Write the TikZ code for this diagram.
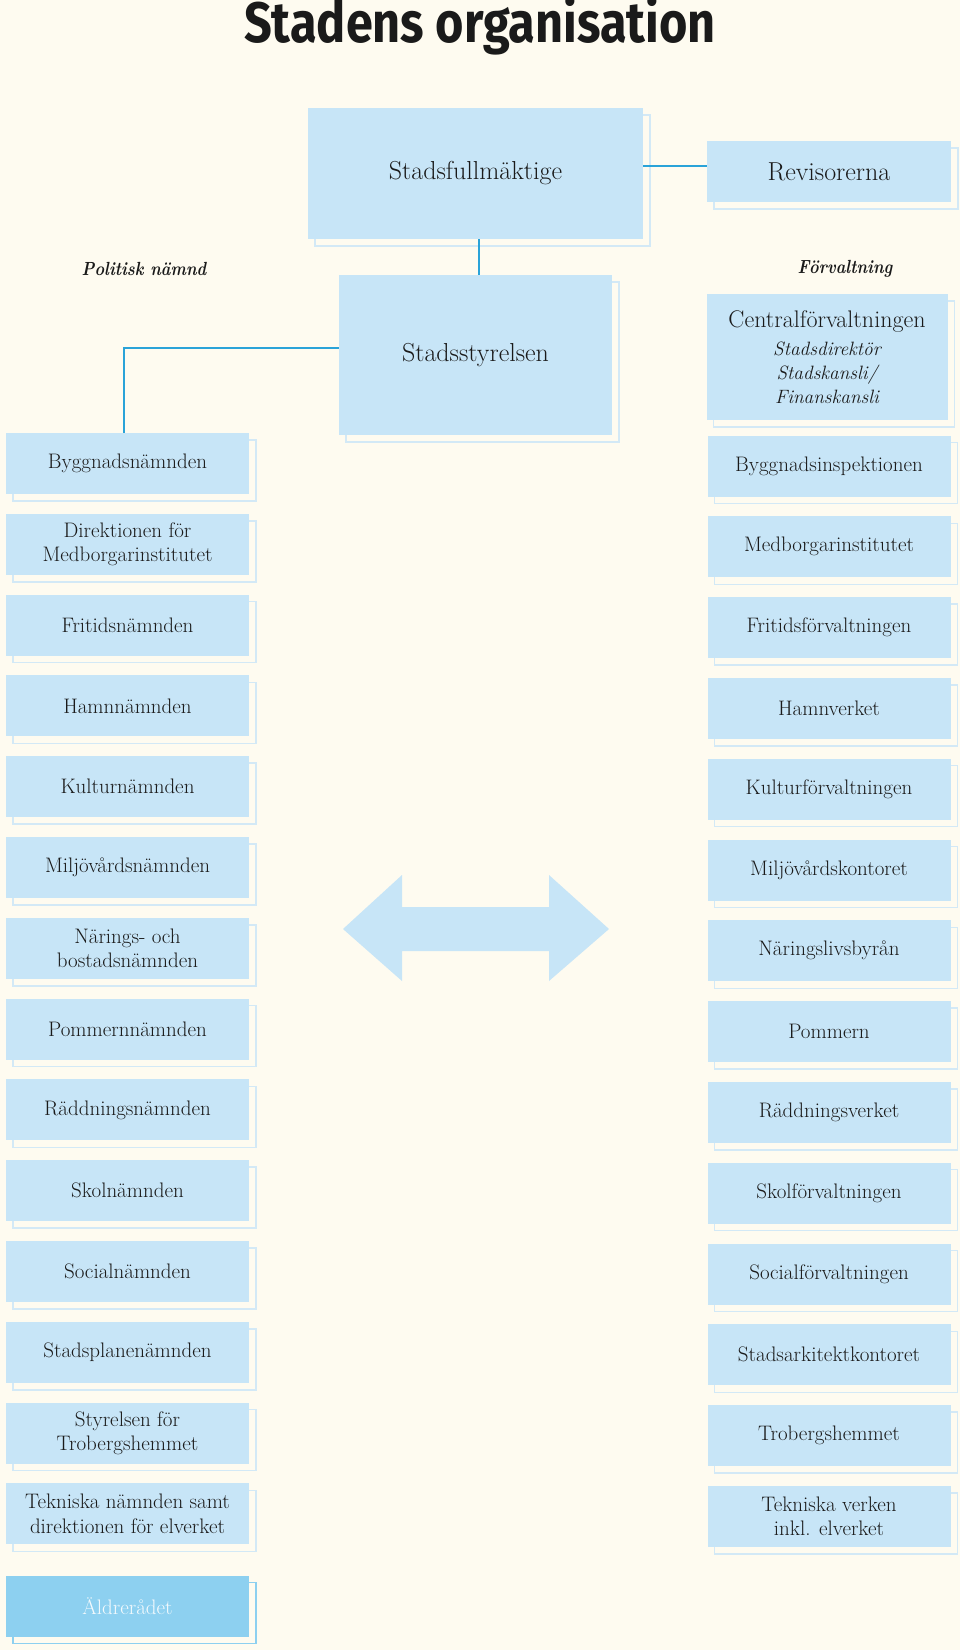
\documentclass[tikz,border=0pt]{standalone}
\usepackage{fontspec}
\usetikzlibrary{shadows}
\newfontfamily\titlefont{Fira Sans}

\definecolor{bgcream}{HTML}{FEFBF0}
\definecolor{boxblue}{HTML}{C7E5F7}
\definecolor{shadeline}{HTML}{D3E9F6}
\definecolor{linkblue}{HTML}{2AA3D8}
\definecolor{darkblue}{HTML}{8DD0F0}
\definecolor{inktext}{HTML}{1A1A1A}

\newcommand{\subline}[1]{{\fontsize{19.3}{24}\selectfont\itshape #1}}

\begin{document}
\begin{tikzpicture}[x=1pt, y=-1pt]
		\tikzset{
			unit/.style={
				rectangle,
				fill=boxblue,
				text=inktext,
				align=center,
				inner sep=0pt,
				minimum width=243pt,
				minimum height=61pt,
				font=\fontsize{21}{24.5}\selectfont,
				general shadow={
					shadow xshift=7pt,
					shadow yshift=-7pt,
					fill=bgcream,
					draw=shadeline,
					line width=1.5pt
				}
			},
			bigunit/.style={
				unit,
				font=\fontsize{26}{30}\selectfont
			},
			council/.style={
				unit,
				fill=darkblue,
				text=white!90!darkblue,
				general shadow={
					shadow xshift=7pt,
					shadow yshift=-7pt,
					fill=bgcream,
					draw=darkblue,
					line width=1.5pt
				}
			},
			head/.style={
				font=\fontsize{19}{22}\selectfont\bfseries\itshape,
				xscale=0.86,
				text=inktext
			},
			link/.style={
				draw=linkblue,
				line width=2.5pt
			}
		}

		% page
		\fill[bgcream] (0, 0) rectangle (960, 1650);
		\useasboundingbox (0, 0) rectangle (960, 1650);

		\node[text=inktext, font=\titlefont\bfseries\fontsize{57}{60}\selectfont,
			xscale=0.853, anchor=base] (title) at (480, 42)
			{Stadens organisation};

		% top level
		\node[bigunit, minimum width=335pt, minimum height=131pt] (fullm) at (475.5, 173.5)
			{Stadsfullmäktige};
		\node[bigunit, minimum width=244pt] (revis) at (829, 171.5)
			{Revisorerna};
		\node[bigunit, minimum width=273pt, minimum height=160pt] (styr) at (475.5, 355)
			{Stadsstyrelsen};

		\node[head] (polhead) at (144, 269) {Politisk nämnd};
		\node[head] (adhead) at (845, 269) {Förvaltning};

		\node[unit, minimum width=241pt, minimum height=126pt, font=\fontsize{24}{24}\selectfont] (central) at (827, 357)
			{Centralförvaltningen\\[4pt]
			\subline{Stadsdirektör}\\ \subline{Stadskansli/}\\ \subline{Finanskansli}};

		% politiska nämnder
		\node[unit] (pol1) at (127.5, 463.5) {Byggnadsnämnden};
		\node[unit] (pol2) at (127.5, 544.3) {Direktionen för\\ Medborgarinstitutet};
		\node[unit] (pol3) at (127.5, 625.1) {Fritidsnämnden};
		\node[unit] (pol4) at (127.5, 705.9) {Hamnnämnden};
		\node[unit] (pol5) at (127.5, 786.7) {Kulturnämnden};
		\node[unit] (pol6) at (127.5, 867.5) {Miljövårdsnämnden};
		\node[unit] (pol7) at (127.5, 948.3) {Närings- och\\ bostadsnämnden};
		\node[unit] (pol8) at (127.5, 1029.1) {Pommernnämnden};
		\node[unit] (pol9) at (127.5, 1109.9) {Räddningsnämnden};
		\node[unit] (pol10) at (127.5, 1190.7) {Skolnämnden};
		\node[unit] (pol11) at (127.5, 1271.5) {Socialnämnden};
		\node[unit] (pol12) at (127.5, 1352.3) {Stadsplanenämnden};
		\node[unit] (pol13) at (127.5, 1433.1) {Styrelsen för\\ Trobergshemmet};
		\node[unit] (pol14) at (127.5, 1513.9) {Tekniska nämnden samt\\ direktionen för elverket};
		\node[council] (aldre) at (127.5, 1606) {Äldrerådet};

		% förvaltningar
		\node[unit] (adm1) at (829, 466) {Byggnadsinspektionen};
		\node[unit] (adm2) at (829, 546.8) {Medborgarinstitutet};
		\node[unit] (adm3) at (829, 627.6) {Fritidsförvaltningen};
		\node[unit] (adm4) at (829, 708.4) {Hamnverket};
		\node[unit] (adm5) at (829, 789.2) {Kulturförvaltningen};
		\node[unit] (adm6) at (829, 870) {Miljövårdskontoret};
		\node[unit] (adm7) at (829, 950.8) {Näringslivsbyrån};
		\node[unit] (adm8) at (829, 1031.6) {Pommern};
		\node[unit] (adm9) at (829, 1112.4) {Räddningsverket};
		\node[unit] (adm10) at (829, 1193.2) {Skolförvaltningen};
		\node[unit] (adm11) at (829, 1274) {Socialförvaltningen};
		\node[unit] (adm12) at (829, 1354.8) {Stadsarkitektkontoret};
		\node[unit] (adm13) at (829, 1435.6) {Trobergshemmet};
		\node[unit] (adm14) at (829, 1516.4) {Tekniska verken\\ inkl. elverket};

		% connectors
		\draw[link] ([yshift=7.5pt]fullm.east) -- ([yshift=7.5pt]fullm.east -| revis.west);
		\draw[link] ([xshift=3.5pt]fullm.south) -- ([xshift=3.5pt]fullm.south |- styr.north);
		\draw[link] ([yshift=7pt]styr.west) -| ([xshift=-3.5pt]pol1.north);

		% double arrow between the columns
		\fill[boxblue] (343, 929) -- (402, 875) -- (402, 907) -- (549, 907) -- (549, 875)
			-- (609, 929) -- (549, 981) -- (549, 951) -- (402, 951) -- (402, 981) -- cycle;

	\end{tikzpicture}
\end{document}
